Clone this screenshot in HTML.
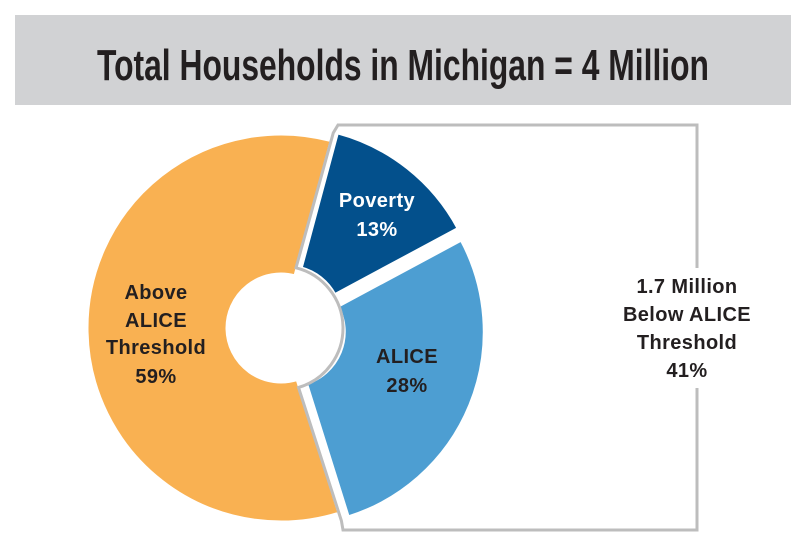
<!DOCTYPE html>
<html><head><meta charset="utf-8"><style>
body{margin:0;background:#fff;}
svg{display:block;font-family:"Liberation Sans",sans-serif;}
</style></head><body>
<svg id="chart" width="806" height="547">
<rect x="15" y="15" width="776" height="90" fill="#d1d2d4"/>
<text x="403" y="80" text-anchor="middle" font-family="'Liberation Sans Narrow','Liberation Sans',sans-serif" font-weight="bold" font-size="44" fill="#231f20" textLength="612" lengthAdjust="spacingAndGlyphs">Total Households in Michigan = 4 Million</text>
<g id="slices"></g>
<path id="bracket" fill="none" stroke="#bdbdbd" stroke-width="3"/>
<rect x="618" y="268" width="138" height="120" fill="#fff"/>
<g font-weight="bold" font-size="20" letter-spacing="0.4" text-anchor="middle">
<text x="156" y="299" fill="#231f20"><tspan x="156">Above</tspan><tspan x="156" dy="28">ALICE</tspan><tspan x="156" dy="27">Threshold</tspan><tspan x="156" dy="29">59%</tspan></text>
<text x="377" y="207" fill="#fff"><tspan x="377">Poverty</tspan><tspan x="377" dy="29">13%</tspan></text>
<text x="407" y="363" fill="#231f20"><tspan x="407">ALICE</tspan><tspan x="407" dy="29">28%</tspan></text>
<text x="687" y="293" fill="#231f20"><tspan x="687">1.7 Million</tspan><tspan x="687" dy="28">Below ALICE</tspan><tspan x="687" dy="28">Threshold</tspan><tspan x="687" dy="28">41%</tspan></text>
</g>
</svg>
<script>
const categories=["Poverty","ALICE","Above ALICE Threshold"];
const values=[13,28,59];
const colors=["#03508c","#4d9ed2","#f9b152"];
const explode=[10,10,0];
const cx=281,cy=328,R=194,r0=54,startDeg=15;
const svg=document.getElementById('slices');
function pt(a,r,ox,oy){const t=(a-90)*Math.PI/180;return [cx+ox+r*Math.cos(t),cy+oy+r*Math.sin(t)];}
const total=values.reduce((a,b)=>a+b,0);
let a=startDeg;const bounds=[];
values.forEach((v,i)=>{
  const span=v/total*360,a1=a+span,mid=(a+a1)/2,mt=(mid-90)*Math.PI/180;
  const ox=explode[i]*Math.cos(mt),oy=explode[i]*Math.sin(mt);
  const p1=pt(a,R,ox,oy),p2=pt(a1,R,ox,oy),p3=pt(a1,r0,ox,oy),p4=pt(a,r0,ox,oy);
  const lg=span>180?1:0;
  const p=document.createElementNS('http://www.w3.org/2000/svg','path');
  p.setAttribute('d',`M${p1}A${R},${R} 0 ${lg} 1 ${p2}L${p3}A${r0},${r0} 0 ${lg} 0 ${p4}Z`);
  p.setAttribute('fill',colors[i]);p.setAttribute('stroke','#fff');p.setAttribute('stroke-width','3');
  
  
  svg.appendChild(p);
  bounds.push([a,a1]);a=a1;
});
const bs=bounds[0][0],be=bounds[1][1],rh=r0+8;
const q1=pt(bs,R+8,0,0),q2=pt(bs-1,rh,0,0),q3=pt(be+1,rh,0,0),q4=pt(be,R+8,0,0);
document.getElementById('bracket').setAttribute('d',`M${q4}L343,530L697,530L697,125L338,125L${q1}L${q2}A${rh},${rh} 0 0 1 ${q3}Z`);
</script>
</body></html>
